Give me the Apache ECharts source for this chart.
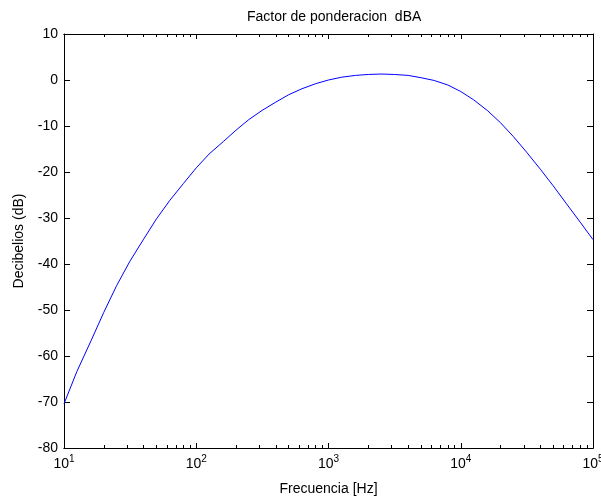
<!DOCTYPE html>
<html>
<head>
<meta charset="utf-8">
<script src="https://cdn.jsdelivr.net/npm/echarts@6/dist/echarts.min.js"></script>
<style>
html,body{margin:0;padding:0;background:#fff;}
#chart{width:601px;height:501px;}
</style>
</head>
<body>
<div id="chart"></div>
<script>
// Data (A-weighting curve)
var freqs = [10, 12.5, 16, 20, 25, 31.5, 40, 50, 63, 80, 100, 125, 160, 200, 250, 315, 400, 500, 630, 800,
  1000, 1250, 1600, 2000, 2500, 3150, 4000, 5000, 6300, 8000, 10000, 12500, 16000, 20000, 25000, 31500,
  40000, 50000, 63000, 80000, 100000];
var dbValues = [-70.4, -63.4, -56.7, -50.5, -44.7, -39.4, -34.6, -30.2, -26.2, -22.5, -19.1, -16.1, -13.4, -10.9, -8.6, -6.6, -4.8, -3.2, -1.9, -0.8,
  0.0, 0.6, 1.0, 1.2, 1.3, 1.2, 1.0, 0.5, -0.1, -1.1, -2.5, -4.3, -6.7, -9.3, -12.3, -15.7,
  -19.4, -23.0, -26.9, -30.9, -34.7];
var xMajorTicks = [10, 100, 1000, 10000, 100000];
var xMinorTicks = [20,30,40,50,60,70,80,90, 200,300,400,500,600,700,800,900, 2000,3000,4000,5000,6000,7000,8000,9000, 20000,30000,40000,50000,60000,70000,80000,90000];
var yTicks = [-80, -70, -60, -50, -40, -30, -20, -10, 0, 10];
var titleText = 'Factor de ponderacion  dBA';
var xName = 'Frecuencia [Hz]';
var yName = 'Decibelios (dB)';

var FONT = 'Liberation Sans, Arial, sans-serif';
var seriesData = freqs.map(function (f, i) { return [f, dbValues[i]]; });
var lineStyle = { color: '#000', width: 1 };

function baseX(pos, tickVals, len, showLabel) {
  return {
    type: 'log', logBase: 10, min: 10, max: 100000, position: pos,
    axisLine: { show: true, onZero: false, lineStyle: lineStyle },
    axisTick: { show: true, inside: true, length: len, customValues: tickVals, lineStyle: lineStyle },
    splitLine: { show: false },
    axisLabel: showLabel ? {
      show: true, customValues: xMajorTicks, margin: 6,
      formatter: function (v) { return '{a|10}{b|' + Math.round(Math.log10(v)) + '}'; },
      rich: {
        a: { fontFamily: FONT, fontSize: 14, color: '#000' },
        b: { fontFamily: FONT, fontSize: 10, color: '#000', padding: [0, 0, 10, 0] }
      }
    } : { show: false }
  };
}

var chart = echarts.init(document.getElementById('chart'), null, { renderer: 'canvas' });
var xb = baseX('bottom', xMajorTicks, 5, true);
xb.name = xName;
xb.nameLocation = 'middle';
xb.nameGap = 34;
xb.nameTextStyle = { fontFamily: FONT, fontSize: 14, color: '#000' };

chart.setOption({
  animation: false,
  backgroundColor: '#fff',
  title: {
    text: titleText, left: 242, top: 5,
    textStyle: { fontFamily: FONT, fontSize: 14, fontWeight: 'normal', color: '#000' }
  },
  grid: { left: 64, top: 34, width: 529, height: 414, containLabel: false, outerBoundsMode: 'none' },
  xAxis: [
    xb,
    baseX('bottom', xMinorTicks, 3, false),
    baseX('top', xMajorTicks, 5, false),
    baseX('top', xMinorTicks, 3, false)
  ],
  yAxis: [
    {
      type: 'value', min: -80, max: 10, interval: 10, position: 'left',
      name: yName, nameLocation: 'middle', nameGap: 38,
      nameTextStyle: { fontFamily: FONT, fontSize: 14, color: '#000' },
      axisLine: { show: true, onZero: false, lineStyle: lineStyle },
      axisTick: { show: true, inside: true, length: 6, lineStyle: lineStyle },
      splitLine: { show: false },
      axisLabel: { fontFamily: FONT, fontSize: 14, color: '#000', margin: 6 }
    },
    {
      type: 'value', min: -80, max: 10, interval: 10, position: 'right',
      axisLine: { show: true, onZero: false, lineStyle: lineStyle },
      axisTick: { show: true, inside: true, length: 6, lineStyle: lineStyle },
      splitLine: { show: false },
      axisLabel: { show: false }
    }
  ],
  series: [{
    type: 'line', xAxisIndex: 0, yAxisIndex: 0, data: seriesData,
    showSymbol: false, smooth: false,
    lineStyle: { color: '#0000ff', width: 1 }
  }]
});
</script>
</body>
</html>
